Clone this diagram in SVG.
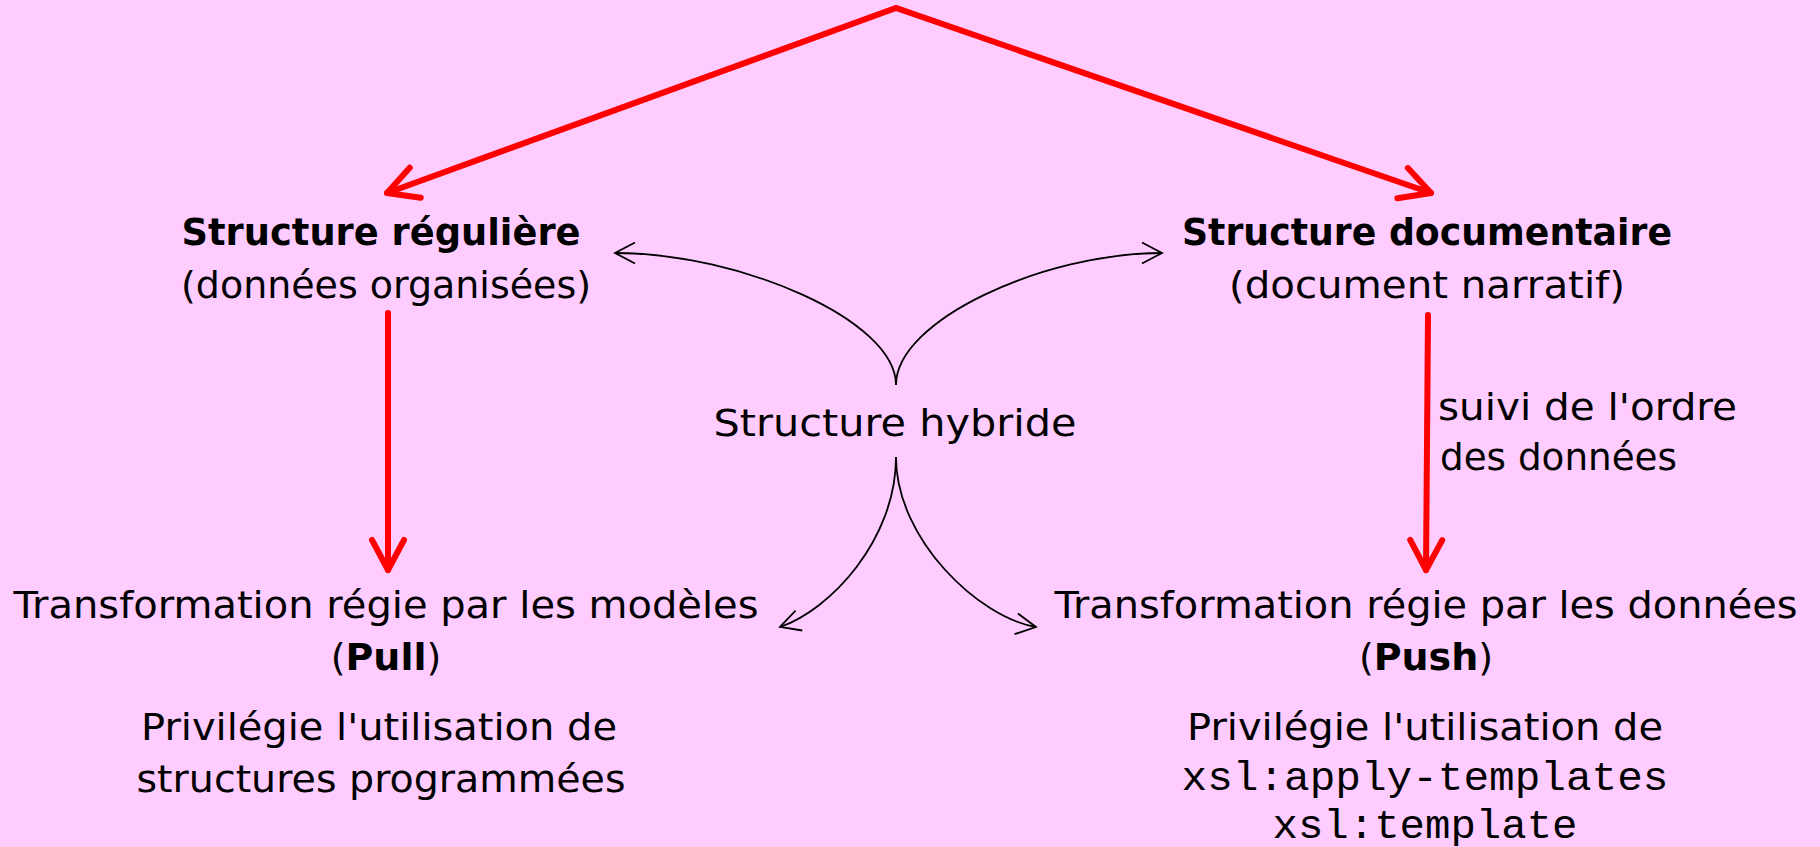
<svg xmlns="http://www.w3.org/2000/svg" width="1820" height="847" viewBox="0 0 1820 847">
<style>
.t{font-family:"DejaVu Sans","Liberation Sans",sans-serif;font-size:38px;fill:#000}
.b{font-weight:bold}
.m{font-family:"Liberation Mono","DejaVu Sans Mono",monospace;font-size:41px;fill:#000}
.red{fill:none;stroke:#FF0000;stroke-width:6;stroke-linecap:round;stroke-linejoin:miter}
.thin{fill:none;stroke:#000;stroke-width:1.8}
</style>
<defs>
<marker id="ar" markerUnits="userSpaceOnUse" orient="auto-start-reverse" markerWidth="80" markerHeight="80" refX="0" refY="0" viewBox="-40 -40 80 80" overflow="visible">
<path d="M-30,-16 L0,0 L-30,16" fill="none" stroke="#FF0000" stroke-width="6" stroke-linecap="round" stroke-linejoin="round"/>
</marker>
<marker id="ab" markerUnits="userSpaceOnUse" orient="auto" markerWidth="60" markerHeight="60" refX="0" refY="0" viewBox="-30 -30 60 60" overflow="visible">
<path d="M-20,-10.5 L0,0 L-20,10.5" fill="none" stroke="#000" stroke-width="1.8" stroke-linejoin="miter"/>
</marker>
</defs>
<rect x="0" y="0" width="1820" height="847" fill="#FFCCFF"/>
<g id="connectors">
<path class="red" d="M387,193 L896,8 L1431,193" marker-start="url(#ar)" marker-end="url(#ar)"/>
<path class="red" d="M388,313 L388,570" marker-end="url(#ar)"/>
<path class="red" d="M1428,315 L1426,570" marker-end="url(#ar)"/>
<path class="thin" d="M896,385 C896,320 740,253 615,253" marker-end="url(#ab)"/>
<path class="thin" d="M896,385 C896,320 1044,253 1162,253" marker-end="url(#ab)"/>
<path class="thin" d="M896,457 C896,540 830,610 780,627" marker-end="url(#ab)"/>
<path class="thin" d="M896,457 C896,540 980,618 1036,627" marker-end="url(#ab)"/>
</g>
<g id="node-reguliere">
<text class="t b" x="381" y="245" text-anchor="middle" textLength="399" lengthAdjust="spacingAndGlyphs">Structure régulière</text>
<text class="t" x="386" y="298" text-anchor="middle" textLength="410" lengthAdjust="spacingAndGlyphs">(données organisées)</text>
</g>
<g id="node-documentaire">
<text class="t b" x="1427" y="245" text-anchor="middle" textLength="490" lengthAdjust="spacingAndGlyphs">Structure documentaire</text>
<text class="t" x="1427" y="298" text-anchor="middle" textLength="396" lengthAdjust="spacingAndGlyphs">(document narratif)</text>
</g>
<g id="node-hybride">
<text class="t" x="895" y="436" text-anchor="middle" textLength="363" lengthAdjust="spacingAndGlyphs">Structure hybride</text>
</g>
<g id="label-ordre">
<text class="t" x="1438" y="420" textLength="299" lengthAdjust="spacingAndGlyphs">suivi de l'ordre</text>
<text class="t" x="1440" y="470" textLength="237" lengthAdjust="spacingAndGlyphs">des données</text>
</g>
<g id="node-pull">
<text class="t" x="386" y="618" text-anchor="middle" textLength="745" lengthAdjust="spacingAndGlyphs">Transformation régie par les modèles</text>
<text class="t" x="386" y="670" text-anchor="middle">(<tspan class="b">Pull</tspan>)</text>
<text class="t" x="379" y="740" text-anchor="middle" textLength="476" lengthAdjust="spacingAndGlyphs">Privilégie l'utilisation de</text>
<text class="t" x="381" y="792" text-anchor="middle" textLength="489" lengthAdjust="spacingAndGlyphs">structures programmées</text>
</g>
<g id="node-push">
<text class="t" x="1426" y="618" text-anchor="middle" textLength="743" lengthAdjust="spacingAndGlyphs">Transformation régie par les données</text>
<text class="t" x="1426" y="670" text-anchor="middle">(<tspan class="b">Push</tspan>)</text>
<text class="t" x="1425" y="740" text-anchor="middle" textLength="476" lengthAdjust="spacingAndGlyphs">Privilégie l'utilisation de</text>
<text class="m" x="1425" y="790" text-anchor="middle" textLength="487" lengthAdjust="spacingAndGlyphs">xsl:apply-templates</text>
<text class="m" x="1425" y="838" text-anchor="middle" textLength="305" lengthAdjust="spacingAndGlyphs">xsl:template</text>
</g>
</svg>
